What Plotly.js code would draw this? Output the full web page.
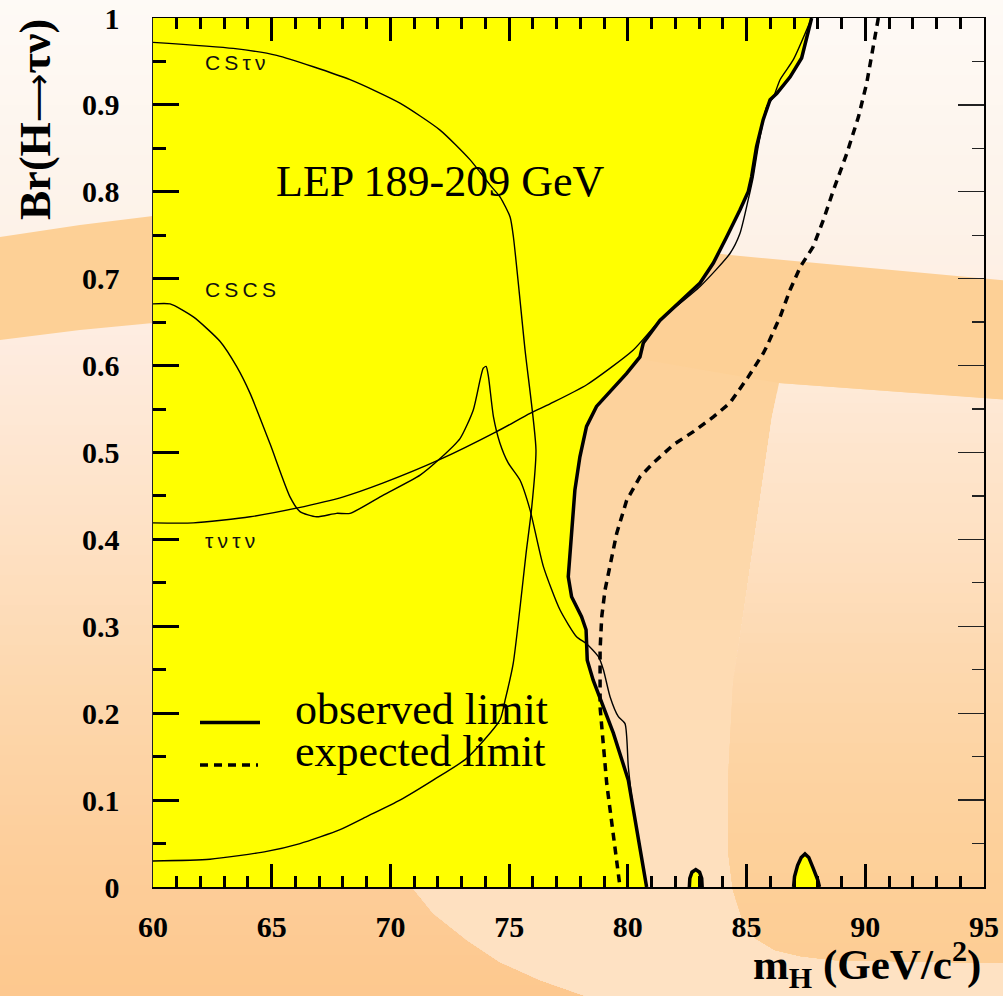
<!DOCTYPE html>
<html><head><meta charset="utf-8">
<script src="https://cdn.plot.ly/plotly-3.0.1.min.js"></script>
<style>html,body{margin:0;padding:0;background:#fefaf6;overflow:hidden}</style>
</head><body><div id="chart" style="width:1003px;height:996px"></div>
<script>
// ---------------- data ----------------
const xTickVals = [60, 65, 70, 75, 80, 85, 90, 95];
const yTickVals = [0, 0.1, 0.2, 0.3, 0.4, 0.5, 0.6, 0.7, 0.8, 0.9, 1];

// observed limit (thick solid), top to bottom
const obsX = [87.74, 87.32, 86.83, 86.27, 85.99, 85.70, 85.42, 85.21, 85.07, 84.72, 84.16, 83.60, 83.04, 82.20, 81.35, 80.65, 80.51, 79.95, 78.68, 78.26, 77.98, 77.77, 77.63, 77.49, 77.63, 78.05, 78.24, 78.29, 78.54, 78.83, 79.39, 80.02, 80.23, 80.44, 80.65, 80.79];
const obsY = [1.000, 0.954, 0.932, 0.913, 0.906, 0.883, 0.852, 0.817, 0.800, 0.779, 0.748, 0.718, 0.695, 0.674, 0.652, 0.626, 0.610, 0.591, 0.553, 0.530, 0.495, 0.457, 0.407, 0.357, 0.334, 0.311, 0.296, 0.261, 0.238, 0.217, 0.177, 0.123, 0.089, 0.054, 0.023, 0.000];

// expected limit (thick dashed)
const expX = [90.55, 90.41, 90.06, 89.71, 89.22, 88.66, 88.24, 87.81, 87.27, 86.83, 86.41, 85.85, 85.70, 85.07, 84.30, 83.60, 82.76, 81.92, 81.07, 80.51, 79.95, 79.53, 79.25, 79.04, 78.90, 78.83, 78.83, 78.83, 79.11, 79.39, 79.60, 79.67];
const expY = [1.000, 0.977, 0.925, 0.886, 0.844, 0.802, 0.768, 0.737, 0.714, 0.687, 0.656, 0.622, 0.614, 0.587, 0.557, 0.541, 0.524, 0.509, 0.488, 0.472, 0.445, 0.407, 0.372, 0.342, 0.311, 0.273, 0.234, 0.207, 0.119, 0.062, 0.012, 0.000];

// small excluded islands
const isl1X = [82.59, 82.61, 82.70, 82.86, 83.02, 83.11, 83.13];
const isl1Y = [0.000, 0.010, 0.017, 0.020, 0.017, 0.010, 0.000];
const isl2X = [86.98, 87.02, 87.15, 87.30, 87.46, 87.62, 87.80, 88.00, 88.07];
const isl2Y = [0.000, 0.012, 0.025, 0.034, 0.038, 0.034, 0.022, 0.008, 0.000];

// channel contours (thin)
const tntnX = [60.00, 61.70, 64.09, 66.04, 68.02, 69.70, 72.09, 74.47, 75.88, 76.72, 78.27, 80.23, 81.35, 83.04, 84.30, 84.72, 85.07, 85.28, 85.49, 85.85, 86.13, 86.41, 86.97, 87.74];
const tntnY = [0.419, 0.419, 0.426, 0.436, 0.449, 0.465, 0.492, 0.524, 0.545, 0.556, 0.578, 0.618, 0.652, 0.691, 0.729, 0.752, 0.791, 0.817, 0.852, 0.898, 0.909, 0.929, 0.952, 1.000];

const cscsX = [60.00, 60.72, 61.70, 62.82, 63.52, 64.09, 64.93, 65.77, 66.19, 66.89, 67.73, 68.30, 69.70, 71.25, 72.09, 72.93, 73.49, 73.91, 74.03, 74.13, 74.34, 74.61, 74.96, 75.46, 75.88, 76.44, 77.14, 77.84, 78.26, 78.76, 78.97, 79.25, 79.60, 79.88, 80.02, 80.23, 80.44, 80.65, 80.79];
const cscsY = [0.671, 0.671, 0.656, 0.628, 0.599, 0.568, 0.510, 0.449, 0.432, 0.426, 0.430, 0.430, 0.451, 0.474, 0.493, 0.516, 0.549, 0.597, 0.599, 0.587, 0.541, 0.511, 0.488, 0.468, 0.434, 0.369, 0.319, 0.288, 0.280, 0.265, 0.250, 0.219, 0.196, 0.188, 0.138, 0.089, 0.054, 0.023, 0.000];

const cstnX = [60.00, 63.38, 65.21, 68.30, 70.40, 72.09, 73.35, 74.19, 74.62, 75.04, 75.18, 75.67, 76.13, 75.94, 75.73, 75.17, 74.83, 74.61, 73.21, 71.80, 70.40, 69.00, 67.88, 66.19, 64.79, 62.40, 60.00];
const cstnY = [0.972, 0.965, 0.957, 0.929, 0.902, 0.871, 0.837, 0.808, 0.794, 0.771, 0.748, 0.618, 0.503, 0.434, 0.388, 0.257, 0.215, 0.192, 0.148, 0.123, 0.100, 0.081, 0.066, 0.050, 0.041, 0.032, 0.030];

const xRange = [60, 95];
const yRange = [0, 1];

// ---------------- decorative background (pixel geometry -> paper) ----------------
const W = 1003, H = 996, ML = 153, MR = 19, MT = 18, MB = 109;
const PW = W - ML - MR, PH = H - MT - MB;
function P(x, y) { return [(x - ML) / PW, (H - MB - y) / PH]; }
function pathOf(poly) {
  return 'M' + poly.map(p => { const q = P(p[0], p[1]); return q[0].toFixed(5) + ',' + q[1].toFixed(5); }).join('L') + 'Z';
}
function clipBelow(poly, k) {
  const out = [];
  for (let i = 0; i < poly.length; i++) {
    const a = poly[i], b = poly[(i + 1) % poly.length];
    const ina = a[1] >= k, inb = b[1] >= k;
    if (ina) out.push(a);
    if (ina !== inb) { const t = (k - a[1]) / (b[1] - a[1]); out.push([a[0] + t * (b[0] - a[0]), k]); }
  }
  return out;
}
function hex2rgb(h) { return [parseInt(h.substr(1, 2), 16), parseInt(h.substr(3, 2), 16), parseInt(h.substr(5, 2), 16)]; }
function colorAt(stops, y) {
  if (y <= stops[0][0]) return stops[0][1];
  for (let i = 1; i < stops.length; i++) {
    if (y <= stops[i][0]) {
      const t = (y - stops[i - 1][0]) / (stops[i][0] - stops[i - 1][0]);
      const a = hex2rgb(stops[i - 1][1]), b = hex2rgb(stops[i][1]);
      return 'rgb(' + a.map((v, j) => Math.round(v + t * (b[j] - v))).join(',') + ')';
    }
  }
  return stops[stops.length - 1][1];
}
const shapes = [];
function gradientRegion(poly, stops, step) {
  const ys = poly.map(p => p[1]);
  const y0 = Math.min(...ys), y1 = Math.max(...ys);
  for (let k = y0; k < y1; k += step) {
    const c = k === y0 ? poly : clipBelow(poly, k);
    if (c.length >= 3) shapes.push({ type: 'path', xref: 'paper', yref: 'paper', path: pathOf(c),
      fillcolor: colorAt(stops, k + step / 2), line: { width: 0 }, layer: 'below' });
  }
}
// base
gradientRegion([[-5, -5], [1010, -5], [1010, 1001], [-5, 1001]],
  [[0, '#fefaf6'], [200, '#fdf3ea'], [340, '#feece0'], [500, '#fee3c9'], [700, '#fdd7ac'], [850, '#fdce9b'], [996, '#fdc88e']], 10);
// middle swoosh
gradientRegion([[400, 300], [1010, 300], [1010, 1001], [600, 1001], [540, 980], [500, 962], [467, 940], [433, 913], [412, 887], [400, 860]],
  [[300, '#fdd096'], [400, '#fdd29c'], [550, '#fdd7a9'], [700, '#fedcb5'], [880, '#fee0bf'], [1000, '#fee2c4']], 10);
// right panel
gradientRegion([[779, 383], [1010, 400], [1010, 963], [833, 960], [800, 956], [775, 950], [755, 938], [742, 918], [733, 890], [728, 850], [728, 783], [733, 683], [743, 617], [760, 500], [772, 417]],
  [[383, '#feead8'], [450, '#fee5cd'], [550, '#fee0c1'], [650, '#fdd9b1'], [750, '#fdd4a4'], [850, '#fdd09a'], [960, '#fdcd94']], 10);
// orange band
shapes.push({ type: 'path', xref: 'paper', yref: 'paper', layer: 'below', fillcolor: '#fdd096', line: { width: 0 },
  path: pathOf([[-5, 238], [0, 237], [80, 225], [153, 216], [300, 212], [500, 228], [730, 255], [1010, 281], [1010, 400], [779, 383], [600, 352], [400, 332], [153, 323], [80, 330], [0, 340], [-5, 341]]) });

// legend samples
function seg(x0, x1, y, dash) {
  const a = P(x0, y), b = P(x1, y);
  return { type: 'line', xref: 'paper', yref: 'paper', x0: a[0], x1: b[0], y0: a[1], y1: b[1], layer: 'above',
    line: { color: 'black', width: 3.5, dash: dash } };
}
shapes.push(seg(200, 260, 722.5, 'solid'));
shapes.push(seg(200, 258, 765, '8px,6px'));

// ---------------- traces ----------------
const yellowX = [xRange[0]].concat(obsX, [xRange[0]]);
const yellowY = [yRange[1]].concat(obsY, [yRange[0]]);
const thin = { color: 'black', width: 1.4, shape: 'spline', smoothing: 0.6 };
const traces = [
  { x: yellowX, y: yellowY, mode: 'lines', fill: 'toself', fillcolor: '#ffff00', line: { width: 0 }, hoverinfo: 'skip' },
  { x: isl1X, y: isl1Y, mode: 'lines', fill: 'toself', fillcolor: '#ffff00', line: { color: 'black', width: 3.5 } },
  { x: isl2X, y: isl2Y, mode: 'lines', fill: 'toself', fillcolor: '#ffff00', line: { color: 'black', width: 3.5 } },
  { x: cstnX, y: cstnY, mode: 'lines', line: thin },
  { x: cscsX, y: cscsY, mode: 'lines', line: thin },
  { x: tntnX, y: tntnY, mode: 'lines', line: thin, yaxis: 'y2' },
  { x: expX, y: expY, mode: 'lines', line: { color: 'black', width: 3.5, dash: '8px,6px' } },
  { x: obsX, y: obsY, mode: 'lines', line: { color: 'black', width: 3.5 } }
];

// ---------------- annotations ----------------
function ann(px, py, text, opts) {
  const p = P(px, py);
  return Object.assign({ xref: 'paper', yref: 'paper', x: p[0], y: p[1], text: text, showarrow: false }, opts);
}
const serif = 'Liberation Serif, Times New Roman, serif';
const lab = { family: 'Liberation Sans, Arial, sans-serif', size: 21, color: '#111' };
const annotations = [
  ann(440, 182, 'LEP 189-209 GeV', { font: { family: serif, size: 44, color: 'black' }, xanchor: 'center', yanchor: 'middle' }),
  ann(203, 63, 'C\u2009S\u2009\u03c4\u2009\u03bd', { font: lab, xanchor: 'left', yanchor: 'middle' }),
  ann(203, 289, 'C\u2009S\u2009C\u2009S', { font: lab, xanchor: 'left', yanchor: 'middle' }),
  ann(203, 540, '\u03c4\u2009\u03bd\u2009\u03c4\u2009\u03bd', { font: lab, xanchor: 'left', yanchor: 'middle' }),
  ann(293, 709, 'observed limit', { font: { family: serif, size: 44, color: 'black' }, xanchor: 'left', yanchor: 'middle' }),
  ann(293, 751, 'expected limit', { font: { family: serif, size: 44, color: 'black' }, xanchor: 'left', yanchor: 'middle' }),
  ann(35, 119, 'Br(H<span style="font-family:DejaVu Sans;font-size:34px;font-weight:normal">\u27f6</span>\u03c4\u03bd)', { font: { family: serif, size: 44, color: 'black', weight: 'bold' }, textangle: -90, xanchor: 'center', yanchor: 'middle' }),
  ann(983, 964, 'm<sub>H</sub> (GeV/c<sup>2</sup>)', { font: { family: serif, size: 43, color: 'black', weight: 'bold' }, xanchor: 'right', yanchor: 'middle' })
];

const tickFont = { family: serif, size: 30, color: 'black', weight: 'bold' };
const layout = {
  width: W, height: H,
  margin: { l: ML, r: MR, t: MT, b: MB, pad: 0 },
  paper_bgcolor: '#fefaf6', plot_bgcolor: 'rgba(0,0,0,0)',
  showlegend: false,
  xaxis: { range: xRange, tickvals: xTickVals, ticks: 'inside', ticklen: 23, tickwidth: 3, tickcolor: 'black',
    mirror: 'ticks', showline: true, linewidth: 1.5, linecolor: 'black', showgrid: false, zeroline: false,
    minor: { dtick: 1, tick0: 60, ticks: 'inside', ticklen: 11, tickwidth: 3, tickcolor: 'black', showgrid: false },
    tickfont: tickFont, ticklabelstandoff: 12, fixedrange: true },
  yaxis: { range: yRange, tickvals: yTickVals, ticktext: yTickVals.map(String), ticks: 'inside', ticklen: 26, tickwidth: 3, tickcolor: 'black',
    showline: true, linewidth: 1.5, linecolor: '#222', showgrid: false, zeroline: false,
    minor: { dtick: 0.05, tick0: 0, ticks: 'inside', ticklen: 13, tickwidth: 3, tickcolor: 'black', showgrid: false },
    tickfont: tickFont, ticklabelstandoff: 26, fixedrange: true },
  yaxis2: { range: yRange, overlaying: 'y', side: 'right', anchor: 'x', tickvals: yTickVals, ticks: 'inside', ticklen: 26, tickwidth: 1.3,
    tickcolor: '#222', showticklabels: false, showline: true, linewidth: 1.5, linecolor: 'black', showgrid: false, zeroline: false,
    minor: { dtick: 0.05, tick0: 0, ticks: 'inside', ticklen: 12, tickwidth: 1.3, tickcolor: '#222', showgrid: false }, fixedrange: true },
  shapes: shapes,
  annotations: annotations
};
Plotly.newPlot('chart', traces, layout, { displayModeBar: false, staticPlot: true });
</script>
</body></html>
